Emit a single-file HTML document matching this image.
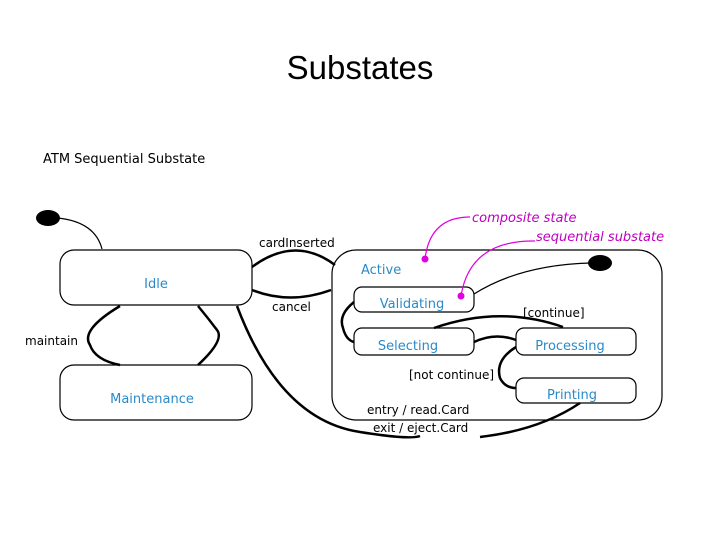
<!DOCTYPE html>
<html><head><style>
body{margin:0;width:720px;height:540px;background:#fff;overflow:hidden}
svg{display:block}
text{font-family:"DejaVu Sans","Liberation Sans",sans-serif}
</style></head><body>
<svg width="720" height="540" viewBox="0 0 720 540">
<text x="360" y="79" text-anchor="middle" font-family="Liberation Sans" font-size="33" fill="#000" style="font-family:'Liberation Sans',sans-serif">Substates</text>
<text x="43" y="163" font-size="13" fill="#000">ATM Sequential Substate</text>
<g fill="none" stroke="#000" stroke-width="1.2">
<rect x="60" y="250" width="192" height="55" rx="14"/>
<rect x="60" y="365" width="192" height="55" rx="14"/>
<rect x="332" y="250" width="330" height="170" rx="24"/>
<rect x="354" y="287" width="120" height="25" rx="8"/>
<rect x="354" y="328" width="120" height="27" rx="8"/>
<rect x="516" y="328" width="120" height="27" rx="8"/>
<rect x="516" y="378" width="120" height="25" rx="8"/>
<path d="M58 218 Q95 222 102 249"/>
<path d="M474 294 Q520 265 590 263"/>
</g>
<ellipse cx="48" cy="218" rx="12" ry="8" fill="#000"/>
<ellipse cx="600" cy="263" rx="12" ry="8" fill="#000"/>
<g fill="none" stroke="#000" stroke-width="2.5">
<path d="M252 267 Q295 235 335 265"/>
<path d="M331 290 Q290 305 252 290"/>
<path d="M120 306 Q80 330 90 345 Q95 360 120 365"/>
<path d="M198 365 Q225 340 217 330 Q208 318 198 306"/>
<path d="M237 306 Q280 420 360 432 Q410 440 420 436 M480 437 Q540 430 580 403"/>
<path d="M354 302 Q338 315 343 328 Q346 340 354 342"/>
<path d="M563 327 Q500 305 434 328"/>
<path d="M474 342 Q495 332 516 340"/>
<path d="M516 347 Q495 360 500 378 Q505 388 516 388"/>
</g>
<g fill="none" stroke="#e000e0" stroke-width="1.2">
<path d="M470 217 Q430 217 425 259"/>
<path d="M535 241 Q470 240 461 296"/>
</g>
<circle cx="425" cy="259" r="3.5" fill="#e000e0"/>
<circle cx="461" cy="296" r="3.5" fill="#e000e0"/>
<g font-size="12" fill="#000">
<text x="259" y="247">cardInserted</text>
<text x="272" y="311">cancel</text>
<text x="25" y="345">maintain</text>
<text x="523" y="317">[continue]</text>
<text x="409" y="379">[not continue]</text>
<text x="367" y="414">entry / read.Card</text>
<text x="373" y="432">exit / eject.Card</text>
</g>
<g font-size="13" fill="#2a8ac8">
<text x="156" y="288" text-anchor="middle">Idle</text>
<text x="152" y="403" text-anchor="middle">Maintenance</text>
<text x="361" y="274">Active</text>
<text x="412" y="308" text-anchor="middle">Validating</text>
<text x="408" y="350" text-anchor="middle">Selecting</text>
<text x="570" y="350" text-anchor="middle">Processing</text>
<text x="572" y="399" text-anchor="middle">Printing</text>
</g>
<g font-size="13" fill="#c000c0" font-style="italic">
<text x="472" y="222">composite state</text>
<text x="536" y="241">sequential substate</text>
</g>
</svg>
</body></html>
